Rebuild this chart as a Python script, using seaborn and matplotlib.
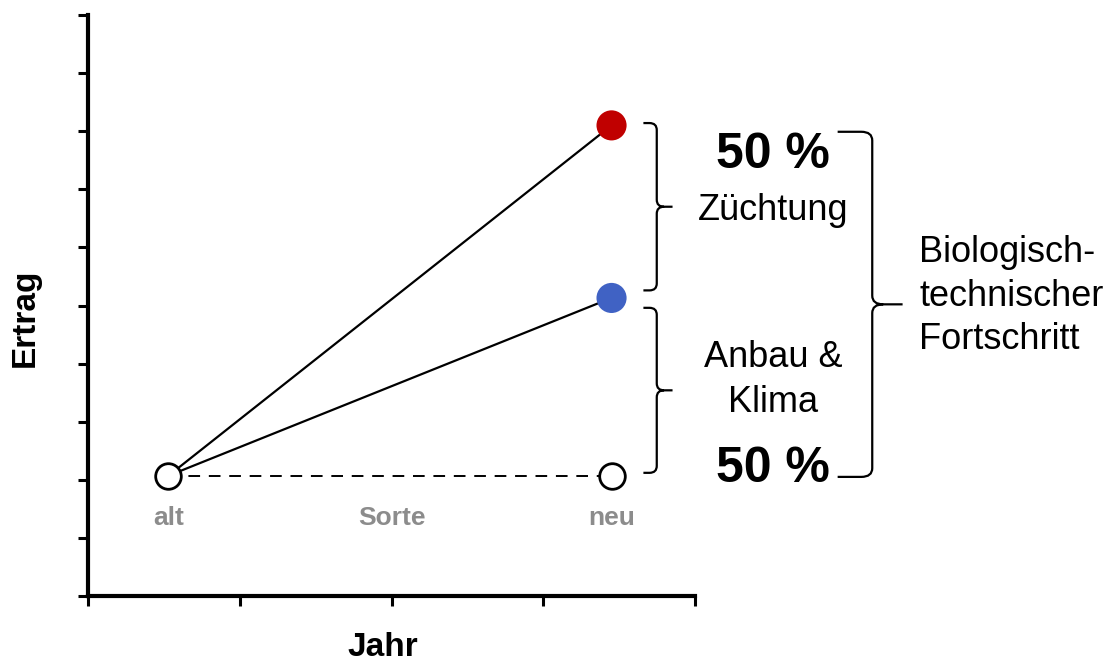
import matplotlib
matplotlib.use("Agg")
import matplotlib.pyplot as plt
from matplotlib.path import Path
from matplotlib.patches import PathPatch
import matplotlib.transforms as mtransforms
import seaborn as sns
import pandas as pd

# Values
positions = ["alt", "Sorte", "neu"]
x_pos = [0.53, 2.0, 3.45]
yield_base = 2.07
yield_climate = 5.13   # after cultivation & climate effect
yield_breeding = 8.10  # after breeding effect
share_breeding = "50 %"
share_climate = "50 %"

sns.set_theme(style="ticks")
plt.rcParams["font.family"] = ["Liberation Sans", "DejaVu Sans"]
plt.rcParams["text.color"] = "black"
plt.rcParams["axes.labelcolor"] = "black"

fig = plt.figure(figsize=(11.15, 6.62), dpi=100)
ax = fig.add_axes([88 / 1115, 66 / 662, 607 / 1115, 581 / 662])

x_old, x_new = x_pos[0], x_pos[2]

seg = pd.DataFrame({
    "x": [x_old, x_new, x_old, x_new, x_old, x_new],
    "y": [yield_base, yield_breeding, yield_base, yield_climate, yield_base, yield_base],
    "seg": ["z", "z", "k", "k", "b", "b"],
})
sns.lineplot(data=seg[seg.seg == "z"], x="x", y="y", color="black", lw=1.6, ax=ax, zorder=2)
sns.lineplot(data=seg[seg.seg == "k"], x="x", y="y", color="black", lw=1.6, ax=ax, zorder=2)
sns.lineplot(data=seg[seg.seg == "b"], x="x", y="y", color="black", lw=1.4,
             dashes=False, ax=ax, zorder=2, linestyle=(0, (6, 4.5)))

open_pts = pd.DataFrame({"x": [x_old, x_new], "y": [yield_base, yield_base]})
sns.scatterplot(data=open_pts, x="x", y="y", s=340, facecolor="white",
                edgecolor="black", linewidth=2.0, ax=ax, zorder=3)
sns.scatterplot(x=[x_new], y=[yield_breeding], s=470, color="#C00000",
                edgecolor="none", ax=ax, zorder=3)
sns.scatterplot(x=[x_new], y=[yield_climate], s=470, color="#4062C4",
                edgecolor="none", ax=ax, zorder=3)

ax.set_xlim(0, 4)
ax.set_ylim(0, 10)
ax.set_xticks(range(5))
ax.set_yticks(range(11))
ax.set_xticklabels([])
ax.set_yticklabels([])
for side in ("top", "right"):
    ax.spines[side].set_visible(False)
for side in ("left", "bottom"):
    ax.spines[side].set_linewidth(3)
    ax.spines[side].set_color("black")
ax.tick_params(axis="both", length=7, width=2.2, color="black", direction="out")

ax.set_xlabel("Jahr", fontsize=24, fontweight="bold", va="center")
ax.set_ylabel("Ertrag", fontsize=24, fontweight="bold", va="center")
ax.xaxis.set_label_coords((383 - 88) / 607, (596 - 648) / 581)
ax.yaxis.set_label_coords((25 - 88) / 607, (596 - 318) / 581)

# Category labels under the points
for lbl, xp in zip(positions, x_pos):
    ax.text(xp, 1.34, lbl, ha="center", va="center", fontsize=19,
            fontweight="bold", color="#8C8C8C")

# Curly braces (x in axes fraction, y in data units)
trans = mtransforms.blended_transform_factory(ax.transAxes, ax.transData)


def brace(x_arm, x_spine, x_tip, y_top, y_bot, rx=0.012, ry=0.12):
    y_mid = (y_top + y_bot) / 2
    verts = [
        (x_arm, y_top), (x_spine - rx, y_top),
        (x_spine, y_top), (x_spine, y_top - ry),
        (x_spine, y_mid + ry),
        (x_spine, y_mid), (x_spine + rx, y_mid),
        (x_tip, y_mid),
        (x_spine + rx, y_mid),
        (x_spine, y_mid), (x_spine, y_mid - ry),
        (x_spine, y_bot + ry),
        (x_spine, y_bot), (x_spine - rx, y_bot),
        (x_arm, y_bot),
    ]
    codes = [
        Path.MOVETO, Path.LINETO,
        Path.CURVE3, Path.CURVE3,
        Path.LINETO,
        Path.CURVE3, Path.CURVE3,
        Path.LINETO,
        Path.MOVETO,
        Path.CURVE3, Path.CURVE3,
        Path.LINETO,
        Path.CURVE3, Path.CURVE3,
        Path.LINETO,
    ]
    patch = PathPatch(Path(verts, codes), transform=trans, facecolor="none",
                      edgecolor="black", lw=1.6, clip_on=False, capstyle="butt")
    ax.add_patch(patch)


brace(0.915, 0.937, 0.963, yield_breeding + 0.04, yield_climate + 0.13)
brace(0.915, 0.937, 0.963, yield_climate - 0.17, yield_base + 0.05)
brace(1.235, 1.292, 1.342, yield_breeding - 0.11, yield_base - 0.02, rx=0.018, ry=0.15)

x_txt = (773 - 88) / 607
ax.text(x_txt, 7.37, share_breeding, transform=trans, ha="center", va="baseline",
        fontsize=36, fontweight="bold", clip_on=False)
ax.text(x_txt, 6.47, "Züchtung", transform=trans, ha="center", va="baseline",
        fontsize=26, clip_on=False)
ax.text(x_txt, 3.94, "Anbau &", transform=trans, ha="center", va="baseline",
        fontsize=26, clip_on=False)
ax.text(x_txt, 3.17, "Klima", transform=trans, ha="center", va="baseline",
        fontsize=26, clip_on=False)
ax.text(x_txt, 1.96, share_climate, transform=trans, ha="center", va="baseline",
        fontsize=36, fontweight="bold", clip_on=False)
ax.text((919 - 88) / 607, (596 - 296) / 58.1, "Biologisch-\ntechnischer\nFortschritt",
        transform=trans, ha="left", va="center", fontsize=26, linespacing=1.32,
        clip_on=False)

fig.savefig("out.png", dpi=100)
